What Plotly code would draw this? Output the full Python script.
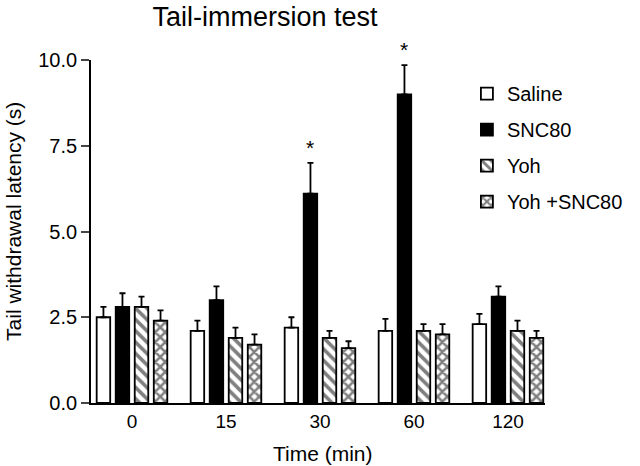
import plotly.graph_objects as go

times = ["0", "15", "30", "60", "120"]
series_names = ["Saline", "SNC80", "Yoh", "Yoh +SNC80"]
saline = [2.5, 2.1, 2.2, 2.1, 2.3]
saline_err = [0.3, 0.3, 0.3, 0.35, 0.3]
snc80 = [2.8, 3.0, 6.1, 9.0, 3.1]
snc80_err = [0.4, 0.4, 0.9, 0.85, 0.3]
yoh = [2.8, 1.9, 1.9, 2.1, 2.1]
yoh_err = [0.3, 0.3, 0.2, 0.2, 0.3]
yoh_snc = [2.4, 1.7, 1.6, 2.0, 1.9]
yoh_snc_err = [0.3, 0.3, 0.2, 0.3, 0.2]
star_times = ["30", "60"]

FONT = "Arial, Liberation Sans, Helvetica, sans-serif"

styles = [
    dict(color="white", pattern=None),
    dict(color="black", pattern=None),
    dict(color="white", pattern=dict(shape="\\", fgcolor="black", bgcolor="white", size=8, solidity=0.45)),
    dict(color="white", pattern=dict(shape="x", fgcolor="black", bgcolor="white", size=7, solidity=0.6)),
]
values = [saline, snc80, yoh, yoh_snc]
errors = [saline_err, snc80_err, yoh_err, yoh_snc_err]

fig = go.Figure()
for name, v, e, s in zip(series_names, values, errors, styles):
    marker = dict(color=s["color"], line=dict(color="black", width=1.8))
    if s["pattern"]:
        marker["pattern"] = s["pattern"]
    fig.add_trace(go.Bar(
        x=times, y=v, name=name, marker=marker, legendgroup=name,
        error_y=dict(type="data", array=e, arrayminus=[0] * len(e), symmetric=False,
                     color="black", thickness=1.8, width=3),
    ))

for t in star_times:
    i = times.index(t)
    fig.add_annotation(x=i, y=snc80[i] + snc80_err[i], text="*", showarrow=False,
                       xshift=-9.5, yshift=2, yanchor="bottom",
                       font=dict(family=FONT, size=21, color="black"))

# axis titles as text annotations
fig.add_annotation(text="Tail withdrawal latency (s)", textangle=-90, showarrow=False,
                   xref="paper", yref="paper", x=-0.171, y=0.529,
                   xanchor="center", yanchor="middle",
                   font=dict(family=FONT, size=21, color="black"))
fig.add_annotation(text="Time (min)", showarrow=False,
                   xref="paper", yref="paper", x=0.512, y=-0.146,
                   xanchor="center", yanchor="middle",
                   font=dict(family=FONT, size=21, color="black"))

fig.update_layout(
    width=640, height=466,
    paper_bgcolor="white", plot_bgcolor="white",
    margin=dict(l=91, r=95, t=60, b=63, autoexpand=False),
    title=dict(text="Tail-immersion test", x=0.414, xanchor="center", y=0.985, yanchor="top",
               pad=dict(t=0, b=0), font=dict(family=FONT, size=27, color="black")),
    font=dict(family=FONT, size=19, color="black"),
    barmode="group", bargap=0.19, bargroupgap=0.29,
    showlegend=True,
    legend=dict(x=0.828, y=0.959, xanchor="left", yanchor="top", bgcolor="rgba(0,0,0,0)",
                font=dict(family=FONT, size=20, color="black"), tracegroupgap=7),
    xaxis=dict(type="category", range=[-0.436, 4.394], showline=True, linecolor="black",
               linewidth=1.8, ticks="", showgrid=False, automargin=False,
               tickfont=dict(size=19)),
    yaxis=dict(range=[0, 10], tickvals=[0, 2.5, 5, 7.5, 10], tickformat=".1f",
               showline=True, linecolor="black", linewidth=1.8, ticks="outside", ticklen=8,
               tickwidth=1.8, showgrid=False, zeroline=False, automargin=False,
               tickfont=dict(size=20)),
)

fig.write_html("out.html", config={"displayModeBar": False},
               post_script="document.body.style.margin='0';")
